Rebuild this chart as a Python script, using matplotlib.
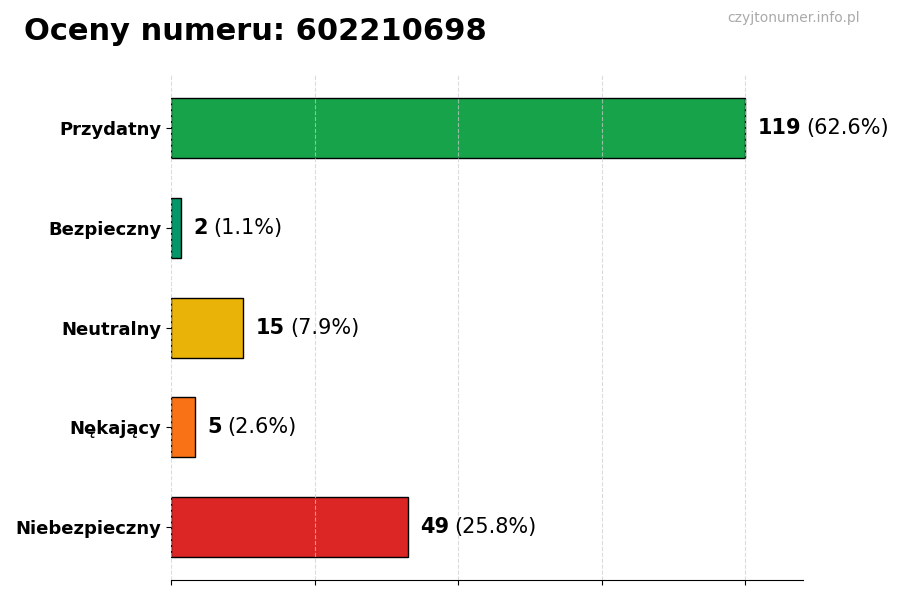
import matplotlib
matplotlib.use("Agg")
import matplotlib.pyplot as plt

# dane
kategorie = ["Przydatny", "Bezpieczny", "Neutralny", "Nękający", "Niebezpieczny"]
liczby = [119, 2, 15, 5, 49]
procenty = [62.6, 1.1, 7.9, 2.6, 25.8]
kolory = ["#16a34a", "#059669", "#eab308", "#f97316", "#dc2626"]

fig = plt.figure(figsize=(9, 6), dpi=100)
ax = fig.add_axes([0.19, 0.033, 0.702, 0.842])

pozycje = list(range(len(kategorie)))[::-1]
ax.barh(pozycje, liczby, height=0.6, color=kolory, edgecolor="black", linewidth=1, zorder=1)

mx = max(liczby)
ax.set_xlim(0, mx * 1.1)
ax.set_xticks([mx * i / 4 for i in range(5)])
ax.set_xticklabels([])
ax.set_yticks(pozycje)
ax.set_yticklabels(kategorie, fontsize=13, fontweight="bold")
ax.grid(axis="x", linestyle="--", color="#cccccc", linewidth=0.8, alpha=0.7, zorder=2)
ax.set_axisbelow(False)
for s in ["top", "right", "left"]:
    ax.spines[s].set_visible(False)

#etykiety przy słupkach
for y, n, p in zip(pozycje, liczby, procenty):
    t = ax.text(n + mx * 0.022, y, str(n), fontsize=15, fontweight="bold", va="center", ha="left")
    ax.annotate("({}%)".format(p), xy=(1, 0.5), xycoords=t, xytext=(5, 0), textcoords="offset pixels",
                va="center", ha="left", fontsize=15)

fig.text(0.027, 0.948, "Oceny numeru: 602210698", fontsize=22, fontweight="bold", va="center")
fig.text(0.955, 0.97, "czyjtonumer.info.pl", fontsize=10, color="#aaaaaa", ha="right", va="center")

fig.savefig("out.png", dpi=100)
